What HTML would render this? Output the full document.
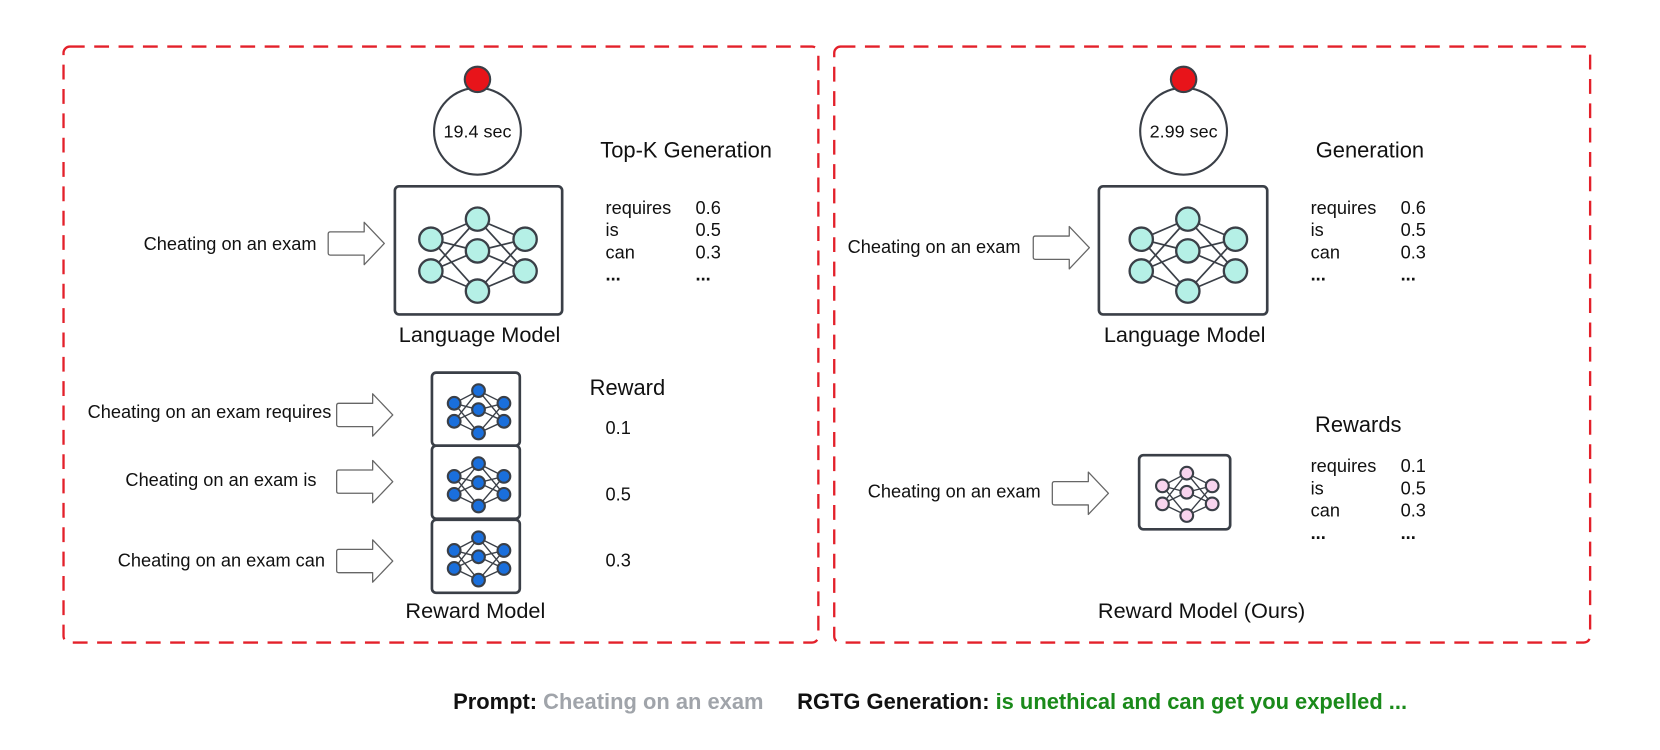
<!DOCTYPE html>
<html><head><meta charset="utf-8"><style>
html,body{margin:0;padding:0;background:#fff;}
svg{display:block;}
text{font-family:"Liberation Sans",Arial,sans-serif;fill:#111;}
</style></head><body>
<svg width="1660" height="750" viewBox="0 0 1568 708.5" preserveAspectRatio="none" xmlns="http://www.w3.org/2000/svg">
<defs>
<path id="arr" d="M2,-11 H34 V-20 L53,0 L34,20 V11 H2 Q0,11 0,9 V-9 Q0,-11 2,-11 Z" fill="#fff" stroke="#666" stroke-width="1.2" stroke-linejoin="round"/>
<g id="bignet" stroke="#3a3f47" stroke-width="1.6">
<g fill="none">
<path d="M-44,-15 L0,-34 M-44,-15 L0,-4 M-44,-15 L0,34 M-44,15 L0,-34 M-44,15 L0,-4 M-44,15 L0,34"/>
<path d="M45,-15 L0,-34 M45,-15 L0,-4 M45,-15 L0,34 M45,15 L0,-34 M45,15 L0,-4 M45,15 L0,34"/>
</g>
<g fill="#b5f0e6" stroke-width="2.2">
<circle cx="-44" cy="-15" r="11"/><circle cx="-44" cy="15" r="11"/>
<circle cx="0" cy="-34" r="11"/><circle cx="0" cy="-4" r="11"/><circle cx="0" cy="34" r="11"/>
<circle cx="45" cy="-15" r="11"/><circle cx="45" cy="15" r="11"/>
</g></g>
<g id="smallnet" stroke="#3a3f47" stroke-width="1.3">
<g fill="none">
<path d="M-23,-7 L0,-19 M-23,-7 L0,-1 M-23,-7 L0,21 M-23,10 L0,-19 M-23,10 L0,-1 M-23,10 L0,21"/>
<path d="M24,-7 L0,-19 M24,-7 L0,-1 M24,-7 L0,21 M24,10 L0,-19 M24,10 L0,-1 M24,10 L0,21"/>
</g>
<g stroke-width="2">
<circle cx="-23" cy="-7" r="6"/><circle cx="-23" cy="10" r="6"/>
<circle cx="0" cy="-19" r="6"/><circle cx="0" cy="-1" r="6"/><circle cx="0" cy="21" r="6"/>
<circle cx="24" cy="-7" r="6"/><circle cx="24" cy="10" r="6"/>
</g></g>
</defs>

<rect x="60" y="44" width="713" height="563" rx="6" fill="none" stroke="#e3202a" stroke-width="2.2" stroke-dasharray="14 9"/>
<rect x="788" y="44" width="714" height="563" rx="6" fill="none" stroke="#e3202a" stroke-width="2.2" stroke-dasharray="14 9"/>

<!-- LEFT -->
<circle cx="451" cy="124" r="41" fill="#fff" stroke="#3a3f47" stroke-width="2"/>
<circle cx="451" cy="75" r="12" fill="#e8141a" stroke="#3a3f47" stroke-width="2"/>
<text x="451" y="130" font-size="17" text-anchor="middle">19.4 sec</text>
<rect x="373" y="176" width="158" height="121" rx="4" fill="#fff" stroke="#3a3f47" stroke-width="2.5"/>
<use href="#bignet" x="451" y="241"/>
<text x="453" y="323" font-size="20.5" text-anchor="middle">Language Model</text>
<text x="567" y="149" font-size="20.7">Top-K Generation</text>
<g font-size="17.2">
<text x="572" y="202">requires</text><text x="657" y="202">0.6</text>
<text x="572" y="223">is</text><text x="657" y="223">0.5</text>
<text x="572" y="244">can</text><text x="657" y="244">0.3</text>
<text x="572" y="265" font-weight="bold">...</text><text x="657" y="265" font-weight="bold">...</text>
</g>
<use href="#arr" x="310" y="230"/>
<text x="299" y="236" font-size="17.2" text-anchor="end">Cheating on an exam</text>

<text x="557" y="373" font-size="20.7">Reward</text>
<rect x="408" y="352" width="83" height="69" rx="4" fill="#fff" stroke="#3a3f47" stroke-width="2.5"/>
<use href="#smallnet" x="452" y="388" fill="#1a6fdc"/>
<rect x="408" y="421" width="83" height="69" rx="4" fill="#fff" stroke="#3a3f47" stroke-width="2.5"/>
<use href="#smallnet" x="452" y="457" fill="#1a6fdc"/>
<rect x="408" y="491" width="83" height="69" rx="4" fill="#fff" stroke="#3a3f47" stroke-width="2.5"/>
<use href="#smallnet" x="452" y="527" fill="#1a6fdc"/>
<use href="#arr" x="318" y="392"/>
<use href="#arr" x="318" y="455"/>
<use href="#arr" x="318" y="530"/>
<g font-size="17.2" text-anchor="end">
<text x="313" y="395">Cheating on an exam requires</text>
<text x="299" y="459">Cheating on an exam is</text>
<text x="307" y="535">Cheating on an exam can</text>
</g>
<g font-size="17.2">
<text x="572" y="410">0.1</text><text x="572" y="473">0.5</text><text x="572" y="535">0.3</text>
</g>
<text x="449" y="584" font-size="20.5" text-anchor="middle">Reward Model</text>

<!-- RIGHT -->
<circle cx="1118" cy="124" r="41" fill="#fff" stroke="#3a3f47" stroke-width="2"/>
<circle cx="1118" cy="75" r="12" fill="#e8141a" stroke="#3a3f47" stroke-width="2"/>
<text x="1118" y="130" font-size="17" text-anchor="middle">2.99 sec</text>
<rect x="1038" y="176" width="159" height="121" rx="4" fill="#fff" stroke="#3a3f47" stroke-width="2.5"/>
<use href="#bignet" x="1122" y="241"/>
<text x="1119" y="323" font-size="20.5" text-anchor="middle">Language Model</text>
<text x="1294" y="149" font-size="20.7" text-anchor="middle">Generation</text>
<g font-size="17.2">
<text x="1238" y="202">requires</text><text x="1323" y="202">0.6</text>
<text x="1238" y="223">is</text><text x="1323" y="223">0.5</text>
<text x="1238" y="244">can</text><text x="1323" y="244">0.3</text>
<text x="1238" y="265" font-weight="bold">...</text><text x="1323" y="265" font-weight="bold">...</text>
</g>
<use href="#arr" x="976" y="234"/>
<text x="964" y="239" font-size="17.2" text-anchor="end">Cheating on an exam</text>

<text x="1283" y="408" font-size="20.7" text-anchor="middle">Rewards</text>
<g font-size="17.2">
<text x="1238" y="446">requires</text><text x="1323" y="446">0.1</text>
<text x="1238" y="467">is</text><text x="1323" y="467">0.5</text>
<text x="1238" y="488">can</text><text x="1323" y="488">0.3</text>
<text x="1238" y="509" font-weight="bold">...</text><text x="1323" y="509" font-weight="bold">...</text>
</g>
<rect x="1076" y="430" width="86" height="70" rx="4" fill="#fff" stroke="#3a3f47" stroke-width="2.5"/>
<use href="#smallnet" x="1121" y="466" fill="#f8d4ee"/>
<use href="#arr" x="994" y="466"/>
<text x="983" y="470" font-size="17.2" text-anchor="end">Cheating on an exam</text>
<text x="1135" y="584" font-size="20.5" text-anchor="middle">Reward Model (Ours)</text>

<text x="428" y="670" font-size="20.7" font-weight="bold">Prompt: <tspan fill="#a0a4aa">Cheating on an exam</tspan></text>
<text x="753" y="670" font-size="20.7" font-weight="bold">RGTG Generation: <tspan fill="#1a8a1a">is unethical and can get you expelled ...</tspan></text>
</svg>
</body></html>
